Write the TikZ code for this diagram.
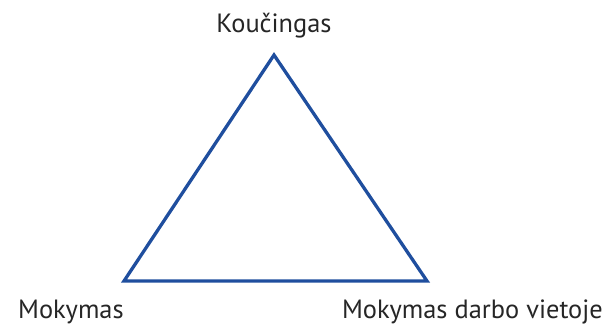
\documentclass[tikz,border=0pt]{standalone}
\usepackage{fontspec}
\setmainfont{PT Sans}
\definecolor{triblue}{HTML}{1F4E9E}
\begin{document}
\begin{tikzpicture}[x=1pt,y=-1pt,
  lbl/.style={inner sep=0pt,font=\fontsize{26.4}{30}\selectfont,text=black!85}]
\useasboundingbox (0,0) rectangle (608,326);
\coordinate (top) at (274,55);
\coordinate (bl) at (124,281);
\coordinate (br) at (427,281);
\draw[triblue,line width=3.3pt,line join=miter] (top) -- (bl) -- (br) -- cycle;
\node[lbl,anchor=base] (k) at (274,33) {Koučingas};
\node[lbl,anchor=base west] (m) at (18,318) {Mokymas};
\node[lbl,anchor=base east] (md) at (603,318) {Mokymas darbo vietoje};
\end{tikzpicture}
\end{document}
